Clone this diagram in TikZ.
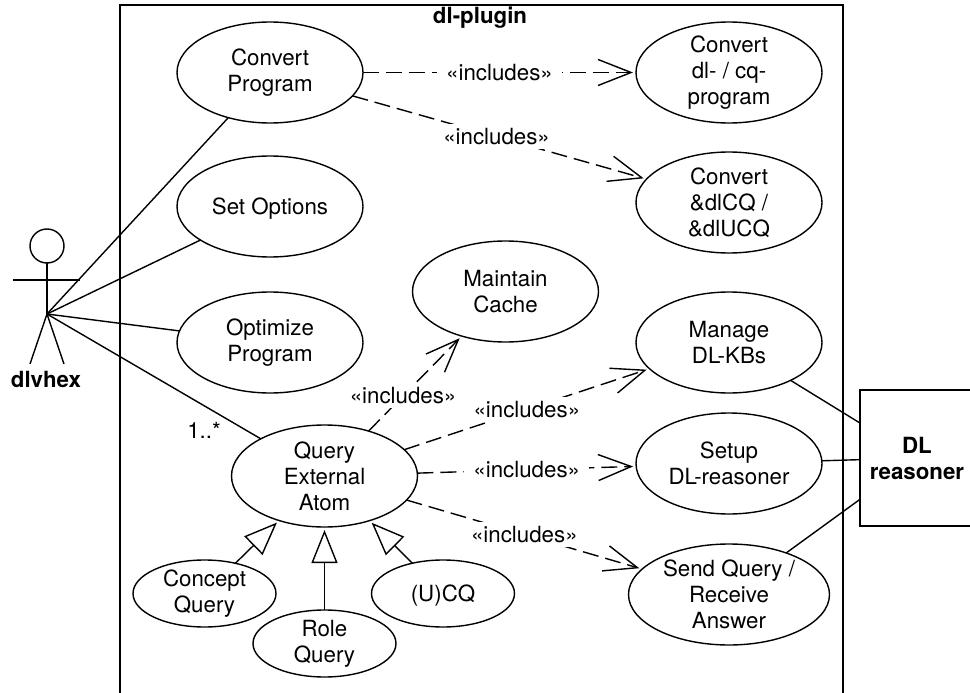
\documentclass[tikz,border=0pt]{standalone}
\usepackage{fontspec}
\setmainfont{TeX Gyre Heros}
\usetikzlibrary{positioning}
\usetikzlibrary{shapes.geometric}
\usetikzlibrary{arrows.meta}

\begin{document}
\begin{tikzpicture}[x=1pt,y=-1pt,line width=1.4pt]
	\tikzset{
		my text/.style={font=\fontsize{22.3}{26}\selectfont,align=center},
		my case/.style={
				my text,
				draw,
				ellipse,
				inner sep=-20pt,
				outer sep=0pt,
				minimum width=186pt,
				minimum height=101pt,
			},
		my small case/.style={
				my case,
				minimum width=143pt,
				minimum height=67pt,
			},
		my bold/.style={my text,font=\fontsize{22.3}{26}\selectfont\bfseries},
		my include/.style={
				dash pattern=on 16pt off 7pt,
				-{Straight Barb[length=33pt,width=26pt,line width=1.4pt]},
				shorten >=3pt,
			},
		my label/.style={my text,fill=white,inner xsep=9pt,inner ysep=4pt},
		my extend/.style={
				-{Triangle[open,fill=white,length=33pt,width=26pt,line width=1.4pt]},
				shorten >=3pt,
			},
	}
	\useasboundingbox (0,0) rectangle (970,693);
	% system frame, open at the bottom
	\draw (120,693) -- (120,5) -- (843,5) -- (843,693);
	\node[my bold] (plugin) at (480,18) {dl-plugin};
	%
	\node[my case] (convprog) at (270,72.5) {Convert\\Program};
	\node[my case,text depth=0pt,below=33pt of convprog] (setopt) {Set Options};
	\node[my case,below=35pt of setopt] (optprog) {Optimize\\Program};
	\node[my case,minimum height=102pt] (query) at (324.5,476) {Query\\External\\Atom};
	\node[my small case] (concept) at (204.5,593.5) {Concept\\Query};
	\node[my small case,below=83pt of query] (role) {Role\\Query};
	\node[my small case,text depth=0pt] (ucq) at (443,593.5) {(U)CQ};
	\node[my case] (cache) at (505.5,291.5) {Maintain\\Cache};
	\node[my case,right=273pt of convprog] (convdl) {Convert\\dl- / cq-\\program};
	\node[my case,below=29pt of convdl] (convcq) {Convert\\\&dlCQ /\\\&dlUCQ};
	\node[my case,right=273pt of optprog] (manage) {Manage\\DL-KBs};
	\node[my case,below=20pt of manage] (setup) {Setup\\DL-reasoner};
	\node[my case,minimum width=201pt,below=30pt of setup] (send) {Send Query /\\Receive\\Answer};
	\node[my bold,draw,minimum width=114pt,minimum height=136pt,inner sep=0pt,outer sep=0pt] (reasoner) at (917,458) {DL\\reasoner};
	%
	\node[draw,circle,minimum size=34pt,inner sep=0pt,outer sep=0pt] (head) at (47,246) {};
	\coordinate (hub) at (47,314);
	\coordinate (arml) at (13,280);
	\coordinate (armr) at (80,280);
	\coordinate (legl) at (30,364);
	\coordinate (legr) at (64,364);
	\node[my bold] (dlvhex) at (46,379) {dlvhex};
	\node[my text] (mult) at (204,430) {1..*};
	\draw (head) -- (hub);
	\draw (arml) -- (armr);
	\draw (hub) -- (legl);
	\draw (hub) -- (legr);
	%
	\draw (hub) -- (convprog);
	\draw (hub) -- (setopt);
	\draw (hub) -- (optprog);
	\draw (hub) -- (query);
	\draw (manage) -- (reasoner);
	\draw (setup) -- (reasoner);
	\draw (send) -- (reasoner);
	%
	\draw[my include] (convprog) -- node[my label] {«includes»} (convdl);
	\draw[my include] (convprog) -- node[my label,pos=0.49] {«includes»} (convcq);
	\draw[my include] (query) -- node[my label,pos=0.37] {«includes»} (cache);
	\draw[my include] (query) -- node[my label] {«includes»} (manage);
	\draw[my include] (query) -- node[my label] {«includes»} (setup);
	\draw[my include] (query) -- node[my label] {«includes»} (send);
	%
	\draw[my extend] (concept) -- (query);
	\draw[my extend] (role) -- (query);
	\draw[my extend] (ucq) -- (query);
\end{tikzpicture}
\end{document}
